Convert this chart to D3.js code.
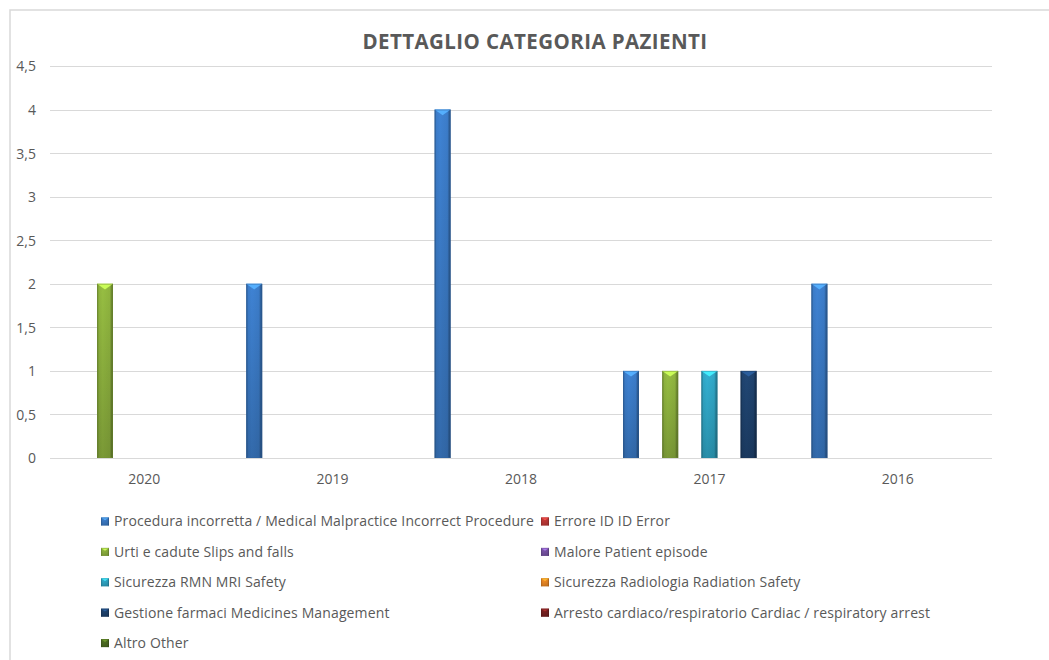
<!DOCTYPE html>
<html><head><meta charset="utf-8">
<script src="https://cdn.jsdelivr.net/npm/d3@7"></script>
<style>body{margin:0;background:#fff}svg{display:block}text{font-family:"Open Sans",sans-serif;fill:#595959}</style>
</head><body><svg id="c" width="1049" height="660"></svg>
<script>
const title = "DETTAGLIO CATEGORIA PAZIENTI";
const categories = ["2020","2019","2018","2017","2016"];
const seriesNames = [
  "Procedura incorretta / Medical Malpractice Incorrect Procedure",
  "Errore ID ID Error",
  "Urti e cadute Slips and falls",
  "Malore Patient episode",
  "Sicurezza RMN MRI Safety",
  "Sicurezza Radiologia Radiation Safety",
  "Gestione farmaci Medicines Management",
  "Arresto cardiaco/respiratorio Cardiac / respiratory arrest",
  "Altro Other"
];
const seriesColors = ["#3c7cc9","#c33a38","#8fb43f","#7a55a8","#30a8c8","#f08a24","#1f436f","#7a2222","#4f6e22"];
const procedura = [0,2,4,1,2];
const erroreId = [0,0,0,0,0];
const urti = [2,0,0,1,0];
const malore = [0,0,0,0,0];
const rmn = [0,0,0,1,0];
const radiologia = [0,0,0,0,0];
const farmaci = [0,0,0,1,0];
const arresto = [0,0,0,0,0];
const altro = [0,0,0,0,0];
const seriesValues = [procedura,erroreId,urti,malore,rmn,radiologia,farmaci,arresto,altro];
const yTicks = [0,0.5,1,1.5,2,2.5,3,3.5,4,4.5];

const svg = d3.select("#c");
const defs = svg.append("defs");
svg.append("path").attr("d","M10,660V10H1049").attr("fill","none").attr("stroke","#d9d9d9").attr("stroke-width",1.5);

svg.append("text").attr("x",535).attr("y",49).attr("text-anchor","middle")
  .style("font-size","20.5px").style("font-weight","bold").style("letter-spacing","0.42px").text(title);

const m = {left:50,right:992,top:66,bottom:458};
const x0 = d3.scaleBand().domain(categories).range([m.left,m.right]).padding(0);
const x1 = d3.scaleBand().domain(d3.range(seriesNames.length)).range([0,x0.bandwidth()])
  .paddingInner(0.184).paddingOuter(0.398);
const y = d3.scaleLinear().domain([0,4.5]).range([m.bottom,m.top]);

svg.append("g").selectAll("line").data(yTicks).join("line")
  .attr("x1",m.left).attr("x2",m.right)
  .attr("y1",d=>Math.round(y(d))+0.5).attr("y2",d=>Math.round(y(d))+0.5)
  .attr("stroke","#d9d9d9").attr("stroke-width",1.2);

const yAxis = d3.axisLeft(y).tickValues(yTicks).tickSize(0).tickPadding(0)
  .tickFormat(d=>String(d).replace(".",","));
const gy = svg.append("g").attr("transform",`translate(36,0)`).call(yAxis);
gy.select(".domain").remove();
gy.selectAll("text").style("font-size","14px").attr("fill","#595959").attr("dy","0.35em");

const xAxis = d3.axisBottom(x0).tickSize(0).tickPadding(0);
const gx = svg.append("g").attr("transform",`translate(0,${m.bottom})`).call(xAxis);
gx.select(".domain").remove();
gx.selectAll("text").style("font-size","14px").attr("fill","#595959").attr("y",21).attr("dy","0.35em");

seriesColors.forEach((c,i)=>{
  const g = defs.append("linearGradient").attr("id","v"+i).attr("x1",0).attr("y1",0).attr("x2",0).attr("y2",1);
  g.append("stop").attr("offset","0%").attr("stop-color",d3.color(c).brighter(0.15));
  g.append("stop").attr("offset","100%").attr("stop-color",d3.color(c).darker(0.45));
});
const h = defs.append("linearGradient").attr("id","hEdge").attr("x1",0).attr("y1",0).attr("x2",1).attr("y2",0);
[[0,0.35],[0.12,0.05],[0.35,0],[0.8,0.05],[0.9,0.25],[1,0.45]].forEach(([o,a])=>
  h.append("stop").attr("offset",o).attr("stop-color","#000").attr("stop-opacity",a));

function bevelBar(g, bx, by, bw, bh, i){
  g.append("rect").attr("x",bx).attr("y",by).attr("width",bw).attr("height",bh).attr("fill",`url(#v${i})`);
  g.append("rect").attr("x",bx).attr("y",by).attr("width",bw).attr("height",bh).attr("fill","url(#hEdge)");
  const cap = Math.min(bw*0.35, bh);
  g.append("path").attr("d",`M${bx},${by}H${bx+bw}L${bx+bw/2},${by+cap}Z`)
    .attr("fill",d3.color(seriesColors[i]).brighter(1.0)).attr("opacity",0.95);
  g.append("rect").attr("x",bx+0.5).attr("y",by+0.5).attr("width",bw-1).attr("height",Math.max(0,bh-1))
    .attr("fill","none").attr("stroke",d3.color(seriesColors[i]).darker(0.6)).attr("stroke-opacity",0.5);
}

const bars = svg.append("g");
seriesValues.forEach((vals,i)=>{
  vals.forEach((v,j)=>{
    if(!v) return;
    const bx = x0(categories[j]) + x1(i);
    bevelBar(bars, bx, y(v), x1.bandwidth(), y(0)-y(v), i);
  });
});

const lg = svg.append("g");
seriesNames.forEach((n,i)=>{
  const col = i%2, row = Math.floor(i/2);
  const mx = col===0 ? 101 : 541;
  const cy = 521.5 + row*30.4;
  bevelBar(lg, mx, cy-4, 8, 8, i);
  lg.append("text").attr("x",mx+13).attr("y",cy).attr("dy","0.35em")
    .style("font-size","14px").style("letter-spacing","0.13px").text(n);
});
</script></body></html>
